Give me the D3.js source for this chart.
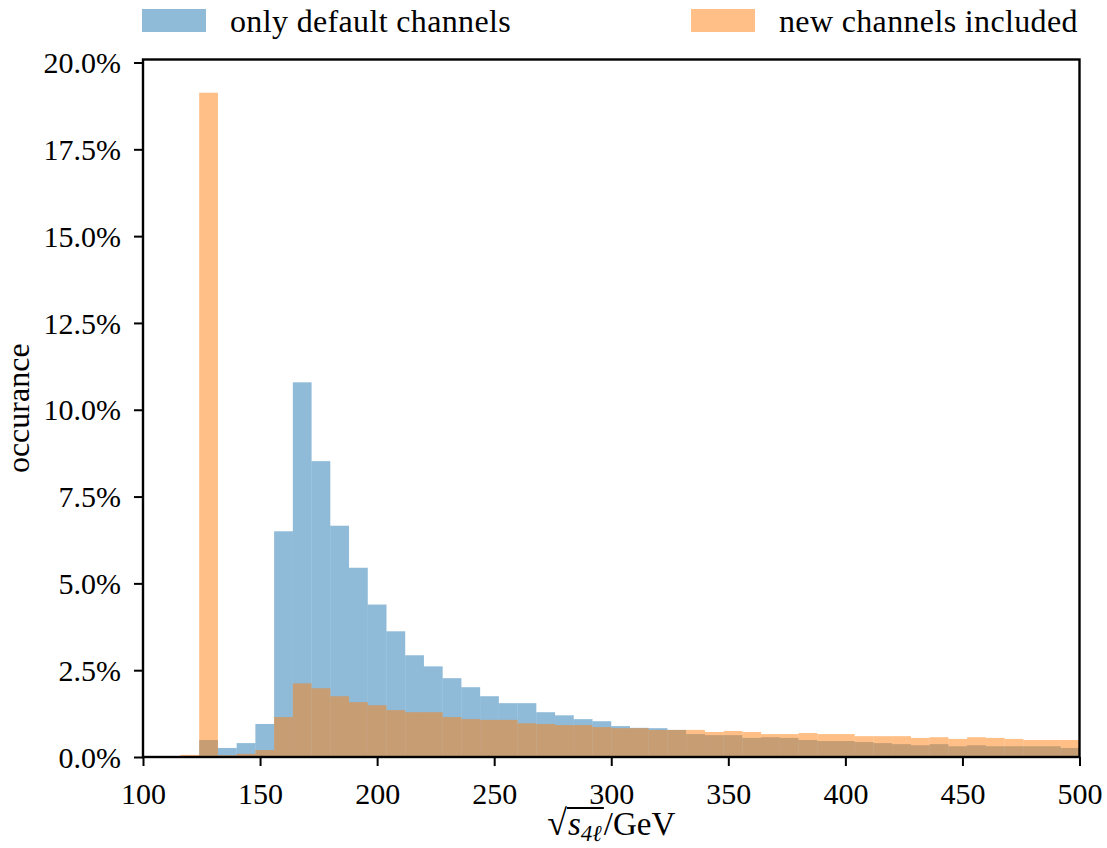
<!DOCTYPE html>
<html>
<head>
<meta charset="utf-8">
<script src="https://cdn.jsdelivr.net/npm/d3@7"></script>
<style>
  html, body { margin: 0; padding: 0; background: #fff; overflow: hidden; }
  svg { display: block; }
  text { font-family: "Liberation Serif", "DejaVu Serif", serif; fill: #000; }
</style>
</head>
<body>
<div id="chart"></div>
<script>
// --------------------------------------
//  Data
// --------------------------------------

// histogram bins: 8 GeV wide from 100 to 500
const binStart = 100;
const binWidth = 8;

// occurance in percent, one value per bin
const defaultOnly = [
  0, 0, 0.02, 0.49, 0.26, 0.40, 0.95, 6.50, 10.79, 8.52,
  6.66, 5.45, 4.39, 3.62, 2.93, 2.61, 2.27, 2.01, 1.75, 1.55,
  1.55, 1.29, 1.20, 1.09, 1.03, 0.89, 0.84, 0.83, 0.78, 0.66,
  0.63, 0.63, 0.55, 0.57, 0.55, 0.49, 0.46, 0.46, 0.43, 0.40,
  0.37, 0.34, 0.37, 0.31, 0.34, 0.31, 0.31, 0.31, 0.31, 0.26
];
const newIncluded = [
  0.02, 0.02, 0.06, 19.13, 0.05, 0.09, 0.20, 1.15, 2.12, 1.98,
  1.75, 1.58, 1.49, 1.35, 1.29, 1.29, 1.15, 1.09, 1.07, 1.07,
  0.97, 0.95, 0.92, 0.92, 0.86, 0.83, 0.83, 0.78, 0.78, 0.78,
  0.72, 0.75, 0.72, 0.66, 0.66, 0.69, 0.66, 0.66, 0.60, 0.60,
  0.60, 0.55, 0.57, 0.52, 0.57, 0.55, 0.52, 0.49, 0.49, 0.49
];

const seriesNames = ["only default channels", "new channels included"];
const seriesColors = ["#1f77b4", "#ff7f0e"];

const xTicks = [100, 150, 200, 250, 300, 350, 400, 450, 500];
const yTicks = [0, 2.5, 5, 7.5, 10, 12.5, 15, 17.5, 20];

// --------------------------------------
//  Margin and canvas
// --------------------------------------

const width = 1107;
const height = 848;
const margin = {top: 59.5, right: 27.5, bottom: 91, left: 143};
const innerWidth = width - margin.left - margin.right;
const innerHeight = height - margin.top - margin.bottom;

const svg = d3.select("#chart")
  .append("svg")
    .attr("width", width)
    .attr("height", height);

const inner = svg.append("g")
    .attr("transform", `translate(${margin.left}, ${margin.top})`);

// --------------------------------------
//  Scales
// --------------------------------------

// matplotlib style 5% headroom above the tallest bar
const yMax = d3.max(newIncluded.concat(defaultOnly)) * 1.05;

const x = d3.scaleLinear()
    .domain([100, 500])
    .range([0, innerWidth]);

const y = d3.scaleLinear()
    .domain([0, yMax])
    .range([innerHeight, 0]);

// --------------------------------------
//  Bars
// --------------------------------------

[defaultOnly, newIncluded].forEach((values, k) => {
  inner.append("g")
    .selectAll("rect")
    .data(values)
    .join("rect")
      .attr("x", (d, i) => x(binStart + i * binWidth))
      .attr("width", (d, i) => x(binStart + (i + 1) * binWidth) - x(binStart + i * binWidth))
      .attr("y", d => y(d))
      .attr("height", d => y(0) - y(d))
      .attr("fill", seriesColors[k])
      .attr("fill-opacity", 0.5);
});

// --------------------------------------
//  Axes
// --------------------------------------

const xAxis = inner.append("g")
    .attr("transform", `translate(0, ${innerHeight})`)
    .call(d3.axisBottom(x).tickValues(xTicks).tickSize(9).tickPadding(17).tickFormat(d3.format("d")));

const yAxis = inner.append("g")
    .call(d3.axisLeft(y).tickValues(yTicks).tickSize(9).tickPadding(13).tickFormat(d => d3.format(".1f")(d) + "%"));

[xAxis, yAxis].forEach(a => {
  a.attr("font-family", null).attr("font-size", null);
  a.select(".domain").remove();
  a.selectAll(".tick line").attr("stroke", "#000").attr("stroke-width", 2);
  a.selectAll(".tick text").attr("font-size", 30);
});
xAxis.selectAll(".tick text").attr("dy", "0.71em");
yAxis.selectAll(".tick text").attr("dy", "0.34em");

// frame
inner.append("rect")
    .attr("width", innerWidth)
    .attr("height", innerHeight)
    .attr("fill", "none")
    .attr("stroke", "#000")
    .attr("stroke-width", 2.4);

// --------------------------------------
//  Labels
// --------------------------------------

svg.append("text")
    .attr("transform", `translate(29, ${margin.top + innerHeight / 2}) rotate(-90)`)
    .attr("text-anchor", "middle")
    .attr("font-size", 32)
    .text("occurance");

// x label: sqrt(s_4l)/GeV as one text with tspans
const xl = svg.append("text")
    .attr("x", margin.left + innerWidth / 2)
    .attr("y", 835)
    .attr("text-anchor", "middle")
    .attr("font-size", 33);
xl.append("tspan").attr("font-size", 36).text("\u221A");
xl.append("tspan").attr("font-style", "italic").attr("dx", 1).text("s");
xl.append("tspan").attr("font-style", "italic").attr("font-size", 23).attr("dy", 6).text("4\u2113");
xl.append("tspan").attr("dy", -6).attr("dx", 2).text("/GeV");

// overline over the radicand
const n = xl.node();
const c0 = n.getExtentOfChar(1);
const c2 = n.getExtentOfChar(3);
svg.append("line")
    .attr("x1", c0.x - 1)
    .attr("x2", c2.x + c2.width + 2)
    .attr("y1", 835 - 27)
    .attr("y2", 835 - 27)
    .attr("stroke", "#000")
    .attr("stroke-width", 1.8);

// --------------------------------------
//  Legend
// --------------------------------------

const legendX = [142, 691];

seriesNames.forEach((name, k) => {
  svg.append("rect")
      .attr("x", legendX[k])
      .attr("y", 9)
      .attr("width", 64)
      .attr("height", 23)
      .attr("fill", seriesColors[k])
      .attr("fill-opacity", 0.5);
  svg.append("text")
      .attr("x", legendX[k] + 88)
      .attr("y", 32)
      .attr("font-size", 32)
      .attr("letter-spacing", 0.35)
      .text(name);
});
</script>
</body>
</html>
